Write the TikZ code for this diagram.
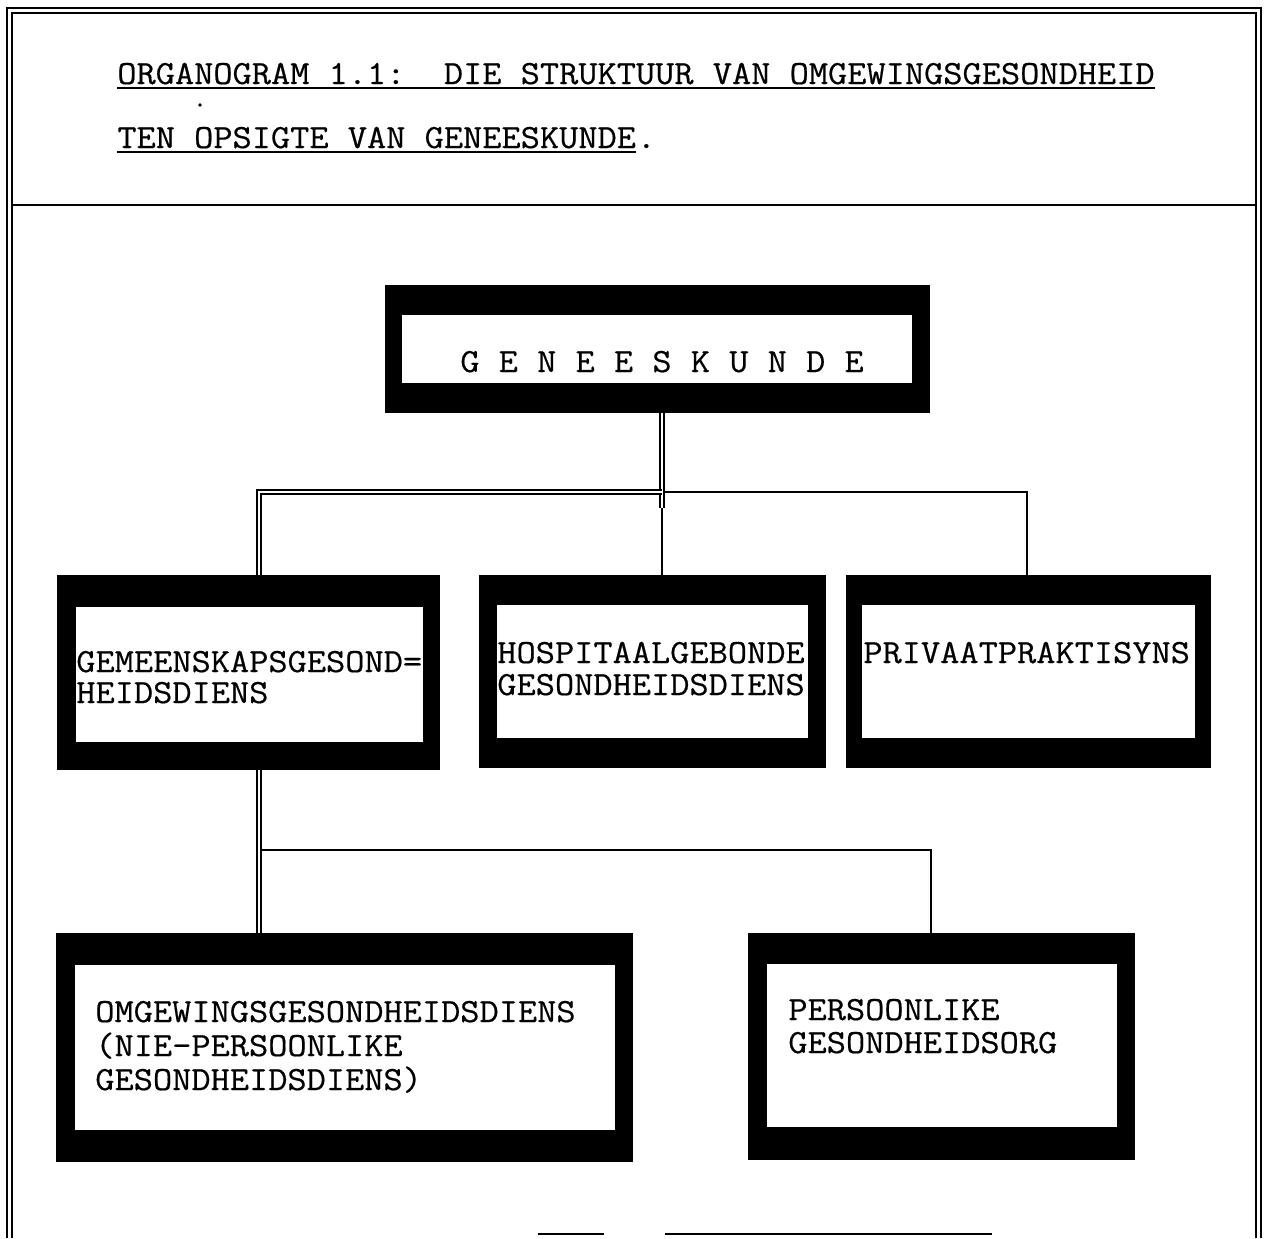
\documentclass[tikz,border=0pt]{standalone}
\usepackage{fontspec}
\newfontfamily\courfont{Latin Modern Mono}[FakeBold=0.5,FakeStretch=1.1]
\usetikzlibrary{fit,calc}
\begin{document}
\begin{tikzpicture}[x=0.02cm,y=-0.02cm,
  blk/.style={fill=black, draw=none, inner sep=0pt},
  wht/.style={fill=white, draw=none, inner sep=0pt},
  txt/.style={inner sep=0pt, anchor=base west, text height=11pt, text depth=2pt,
    font=\courfont\fontsize{19.3pt}{20pt}\selectfont},
  frameline/.style={line width=0.85pt},
  sepline/.style={line width=1.4pt},
  uline/.style={line width=1.3pt},
  sline/.style={line width=0.8pt},
  dline/.style={line width=0.75pt, double, double distance=1.5pt},
  frag/.style={line width=1.6pt}
]
\useasboundingbox (0,0) rectangle (1270,1238);
\fill[white] (0,0) rectangle (1270,1238);

% outer double frame
\draw[frameline] (7,1238) -- (7,8) -- (1261,8) -- (1261,1238);
\draw[frameline] (12,1238) -- (12,13) -- (1256,13) -- (1256,1238);
\draw[sepline] (12,205) -- (1256,205);

% title
\node[txt] (title1) at (117,84) {ORGANOGRAM 1.1:\ \ DIE STRUKTUUR VAN OMGEWINGSGESONDHEID};
\draw[uline] ([yshift=-2.2pt]title1.base west) -- ([yshift=-2.2pt]title1.base east);
\node[txt] (title2) at (117,148) {TEN OPSIGTE VAN GENEESKUNDE};
\node[txt] (title2p) at (title2.base east) {.};
\draw[uline] ([yshift=-2.2pt]title2.base west) -- ([yshift=-2.2pt]title2.base east);
\fill (200,105) circle (1.1pt);

% boxes: outer black frames
\node[blk, fit={(385,285) (930,413)}] (gen) {};
\node[blk, fit={(57,575) (440,770)}] (gemA) {};
\node[blk, fit={(479,575) (826,768)}] (hosp) {};
\node[blk, fit={(846,575) (1211,768)}] (priv) {};
\node[blk, fit={(56,933) (633,1162)}] (omg) {};
\node[blk, fit={(748,933) (1135,1160)}] (pers) {};

% inner white areas
\node[wht, fit={(402,315) (912,383)}] (genIn) {};
\node[wht, fit={(76,607) (423,742)}] (gemAIn) {};
\node[wht, fit={(497,605) (808,738)}] (hospIn) {};
\node[wht, fit={(862,605) (1195,738)}] (privIn) {};
\node[wht, fit={(75,965) (615,1130)}] (omgIn) {};
\node[wht, fit={(767,964) (1117,1127)}] (persIn) {};

% texts
\node[txt] (genT) at (460,372) {G E N E E S K U N D E};
\node[txt] (gemT1) at (76,672) {GEMEENSKAPSGESOND=};
\node[txt] (gemT2) at (76,703) {HEIDSDIENS};
\node[txt] (hospT1) at (497,663) {HOSPITAALGEBONDE};
\node[txt] (hospT2) at (497,695) {GESONDHEIDSDIENS};
\node[txt] (privT) at (863,663) {PRIVAATPRAKTISYNS};
\node[txt] (omgT1) at (95,1022) {OMGEWINGSGESONDHEIDSDIENS};
\node[txt] (omgT2) at (95,1056) {(NIE-PERSOONLIKE};
\node[txt] (omgT3) at (95,1090) {GESONDHEIDSDIENS)};
\node[txt] (persT1) at (788,1020) {PERSOONLIKE};
\node[txt] (persT2) at (788,1053) {GESONDHEIDSORG};

% connector junctions
\coordinate (jTop) at (662,492);
\coordinate (jL) at (259,492);
\coordinate (jR) at (1027,492);
\coordinate (jStub) at (662,508);
\coordinate (jB) at (259,850);
\coordinate (jE) at (931,850);

% single connectors (drawn first)
\draw[sline] (jTop) -- (jR) -- (priv.north -| jR);
\draw[sline] (jStub) -- (hosp.north -| jStub);
\draw[sline] (jB) -- (jE) -- (pers.north -| jE);

% double connectors
\draw[dline] (gen.south -| jTop) -- (jStub);
\draw[dline] (jTop) -- (jL) -- (gemA.north -| jL);
\draw[dline] (gemA.south -| jB) -- (omg.north -| jB);

% fragments at the lower edge
\draw[frag] (538,1234) -- (604,1234);
\draw[frag] (665,1234) -- (992,1234);
\end{tikzpicture}
\end{document}
